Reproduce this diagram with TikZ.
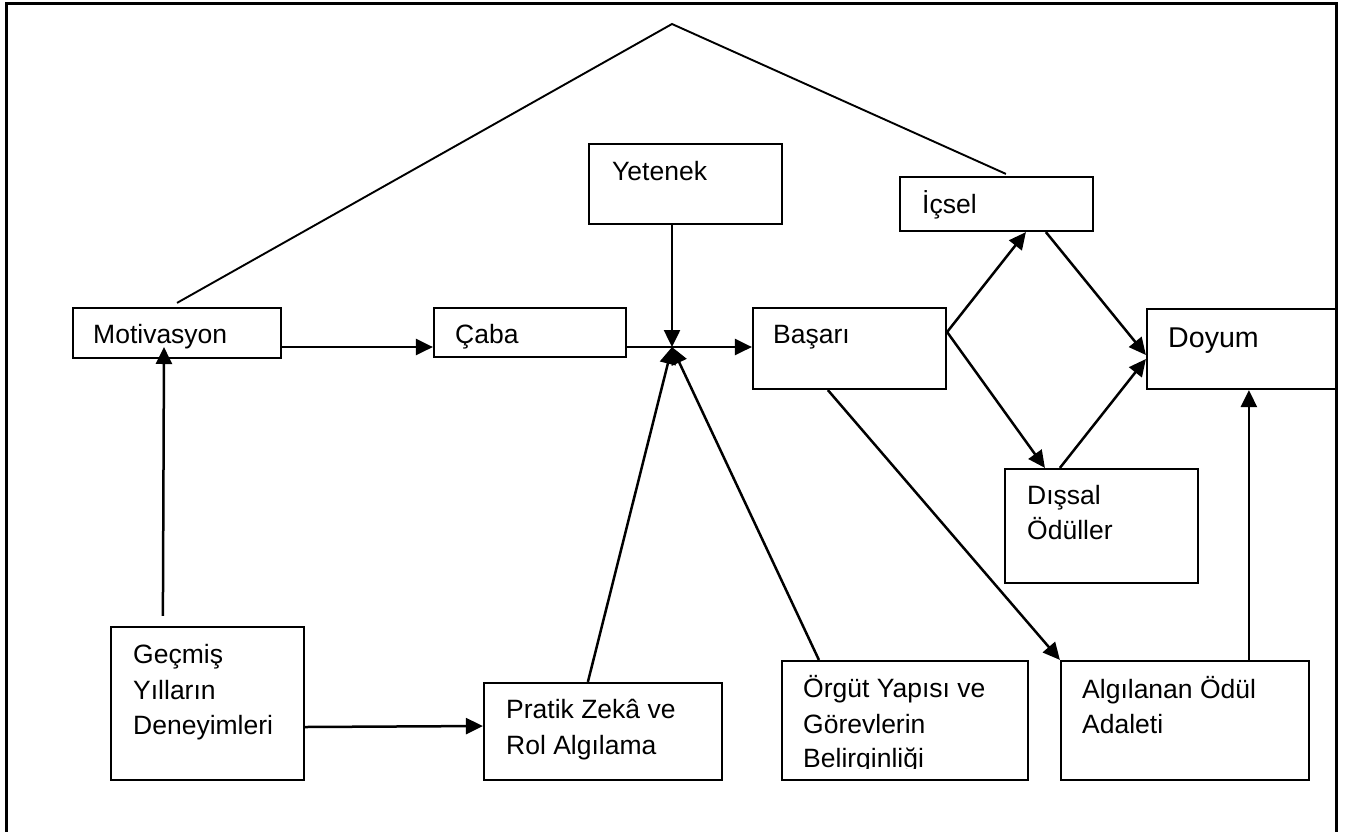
\documentclass[tikz,border=0pt]{standalone}
\usepackage{fontspec}
\setmainfont{Liberation Sans}
\usetikzlibrary{arrows.meta}
\begin{document}
\begin{tikzpicture}[x=1pt,y=-1pt,
  box/.style={draw=black,line width=2.2pt,rectangle,inner sep=0pt},
  txt/.style={anchor=base west,inner sep=0pt,font=\fontsize{26.5}{32}\selectfont},
  big/.style={anchor=base west,inner sep=0pt,font=\fontsize{28.6}{34}\selectfont},
  arr/.style={line width=2.5pt,-{Triangle[length=17pt,width=16pt]}},
  ln/.style={line width=2.5pt},
  thin/.style={line width=1.9pt}]
\useasboundingbox (0,0) rectangle (1346,831);
% frame
\draw[line width=3pt] (6,835) -- (6,3) -- (1336,3) -- (1336,835);
% boxes
\node[box,minimum width=208pt,minimum height=50pt] (mot) at (177,333) {};
\node[box,minimum width=192pt,minimum height=49pt] (caba) at (530,332.5) {};
\node[box,minimum width=193pt,minimum height=80pt] (yet) at (685.5,184) {};
\node[box,minimum width=193pt,minimum height=81pt] (bas) at (849.5,348.5) {};
\node[box,minimum width=193pt,minimum height=54pt] (icsel) at (996.5,204) {};
\node[box,minimum width=189pt,minimum height=80pt] (doyum) at (1241.5,349) {};
\node[box,minimum width=193pt,minimum height=114pt] (dissal) at (1101.5,526) {};
\node[box,minimum width=193pt,minimum height=153pt] (gecmis) at (207.5,703.5) {};
\node[box,minimum width=238pt,minimum height=97pt] (pratik) at (603,731.5) {};
\node[box,minimum width=246pt,minimum height=119pt] (orgut) at (905,720.5) {};
\node[box,minimum width=248pt,minimum height=119pt] (algi) at (1185,720.5) {};
% texts
\node[txt] (motT) at (93,343) {Motivasyon};
\node[txt] (cabaT) at (455,343) {Çaba};
\node[txt] (yetT) at (612,180) {Yetenek};
\node[txt] (basT) at (773,343) {Başarı};
\node[txt] (icselT) at (922,213) {İçsel};
\node[big] (doyumT) at (1168,347) {Doyum};
\node[txt] (dissalT1) at (1027,504) {Dışsal};
\node[txt] (dissalT2) at (1027,539) {Ödüller};
\node[txt] (gecT1) at (133,663) {Geçmiş};
\node[txt] (gecT2) at (133,699) {Yılların};
\node[txt] (gecT3) at (133,734) {Deneyimleri};
\node[txt] (praT1) at (506,718) {Pratik Zekâ ve};
\node[txt] (praT2) at (506,754) {Rol Algılama};
\node[txt] (orgT1) at (803,697) {Örgüt Yapısı ve};
\node[txt] (orgT2) at (803,733) {Görevlerin};
\begin{scope}
\clip (782,661) rectangle (1028,768);
\node[txt] (orgT3) at (803,767) {Belirginliği};
\end{scope}
\node[txt] (algT1) at (1082,698) {Algılanan Ödül};
\node[txt] (algT2) at (1082,733) {Adaleti};
% coordinates
\coordinate (J) at (672,347);
\coordinate (A) at (672,24);
\coordinate (M1) at (164,347);
\coordinate (B) at ([yshift=16.5pt]bas.east);
% apex lines
\draw[thin] ([yshift=4pt]mot.north) -- (A) -- ([xshift=107pt,yshift=2pt]icsel.north west);
% connectors
\draw[arr] (mot.east |- J) -- (caba.west |- J);
\draw[ln] (caba.east |- J) -- (J);
\draw[arr] (J) -- (bas.west |- J);
\draw[arr] (J |- yet.south) -- (J);
\draw[arr] ([xshift=105pt]pratik.north west) -- (J);
\draw[arr] ([xshift=38pt]orgut.north west) -- (J);
\draw[arr] (B) -- ([xshift=127pt]icsel.south west);
\draw[arr] (B) -- ([xshift=41pt]dissal.north west);
\draw[arr] ([xshift=147pt]icsel.south west) -- ([yshift=-6pt]doyum.west);
\draw[arr] ([xshift=56pt]dissal.north west) -- ([yshift=-10pt]doyum.west);
\draw[arr] ([xshift=76pt]bas.south west) -- (algi.north west);
\draw[arr] ([xshift=189pt]algi.north west) -- ([xshift=189pt]algi.north west |- doyum.south);
\draw[arr] ([yshift=-23.5pt]gecmis.east) -- ([yshift=5.5pt]pratik.west);
\draw[arr] ([xshift=53pt,yshift=10pt]gecmis.north west) -- (M1);
\end{tikzpicture}
\end{document}
